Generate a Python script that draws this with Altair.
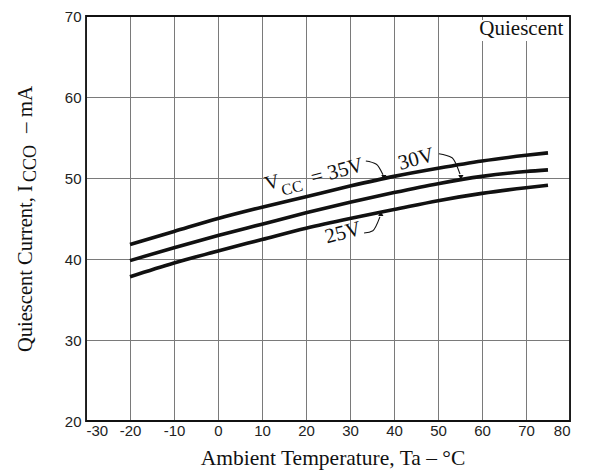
import altair as alt
import pandas as pd

# ---- data ----
temps = [-20, -10, 0, 10, 20, 30, 40, 50, 60, 70, 75]
icco_35v = [41.8, 43.4, 45.0, 46.4, 47.7, 49.0, 50.2, 51.2, 52.1, 52.8, 53.1]
icco_30v = [39.8, 41.4, 42.9, 44.3, 45.7, 47.0, 48.2, 49.3, 50.2, 50.8, 51.0]
icco_25v = [37.8, 39.5, 41.0, 42.4, 43.8, 45.0, 46.1, 47.2, 48.1, 48.8, 49.1]

x_ticks = [-30, -20, -10, 0, 10, 20, 30, 40, 50, 60, 70, 80]
y_ticks = [20, 30, 40, 50, 60, 70]

# annotation labels (data coordinates)
label_text = ["V", "CC", "= 35V", "30V", "25V"]
label_x = [11.1, 14.8, 21.6, 41.4, 24.8]
label_y = [48.5, 47.8, 49.2, 51.0, 41.9]
label_size = [20, 16, 21, 21, 21]

# arrows (curved leaders) in data coordinates
arrow_id = ["a35"] * 3 + ["a30"] * 3 + ["a25"] * 3
arrow_x = [33.6, 36.0, 37.5, 50.2, 53.2, 55.0, 33.2, 35.2, 36.8]
arrow_y = [52.1, 51.7, 50.4, 53.0, 52.5, 50.5, 43.2, 43.5, 45.2]
head_x = [37.7, 55.2]
head_y = [50.1, 50.1]
head_up_x = [37.0]
head_up_y = [45.6]

rows = []
for name, vals in [("35V", icco_35v), ("30V", icco_30v), ("25V", icco_25v)]:
    for t, v in zip(temps, vals):
        rows.append({"Ta": t, "I": v, "Vcc": name})
df = pd.DataFrame(rows)

W, H = 484, 405

xs = alt.Scale(domain=[-30, 80], nice=False, zero=False)
ys = alt.Scale(domain=[20, 70], nice=False, zero=False)

base_axis_x = alt.Axis(values=x_ticks, grid=True, gridColor="#7a7a7a", gridWidth=1,
                       ticks=False, domain=False, labelFont="Liberation Sans",
                       labelFontSize=15, labelColor="#222", labelPadding=2, title=None,
                       labelExpr="replace(datum.label, '\u2212', '-')")
base_axis_y = alt.Axis(values=y_ticks, grid=True, gridColor="#7a7a7a", gridWidth=1,
                       ticks=False, domain=False, labelFont="Liberation Sans",
                       labelFontSize=15, labelColor="#222", labelPadding=5, title=None)

curves = alt.Chart(df).mark_line(color="#111", strokeWidth=3.6, interpolate="monotone").encode(
    x=alt.X("Ta:Q", scale=xs, axis=base_axis_x),
    y=alt.Y("I:Q", scale=ys, axis=base_axis_y),
    detail="Vcc:N",
)

lab_df = pd.DataFrame({"t": label_text, "x": label_x, "y": label_y, "s": label_size})
labels = alt.Chart(lab_df).mark_text(font="Liberation Serif", angle=345, align="left",
                                     baseline="alphabetic", color="#111").encode(
    x=alt.X("x:Q", scale=xs), y=alt.Y("y:Q", scale=ys), text="t:N",
    size=alt.Size("s:Q", scale=None, legend=None),
)

arr_df = pd.DataFrame({"id": arrow_id, "x": arrow_x, "y": arrow_y, "o": list(range(len(arrow_x)))})
arrows = alt.Chart(arr_df).mark_line(color="#111", strokeWidth=1.1, interpolate="monotone").encode(
    x=alt.X("x:Q", scale=xs), y=alt.Y("y:Q", scale=ys), detail="id:N", order="o:Q",
)
heads_down = alt.Chart(pd.DataFrame({"x": head_x, "y": head_y})).mark_point(
    shape="triangle-down", filled=True, color="#111", size=28, opacity=1).encode(
    x=alt.X("x:Q", scale=xs), y=alt.Y("y:Q", scale=ys))
heads_up = alt.Chart(pd.DataFrame({"x": head_up_x, "y": head_up_y})).mark_point(
    shape="triangle-up", filled=True, color="#111", size=28, opacity=1).encode(
    x=alt.X("x:Q", scale=xs), y=alt.Y("y:Q", scale=ys))

# "Quiescent" label box
qbox = alt.Chart(pd.DataFrame({"x": [58.6], "x2": [79.8], "y": [69.5], "y2": [66.9]})).mark_rect(
    color="white").encode(x=alt.X("x:Q", scale=xs), x2="x2:Q", y=alt.Y("y:Q", scale=ys), y2="y2:Q")
qtext = alt.Chart(pd.DataFrame({"x": [59.4], "y": [67.6], "t": ["Quiescent"]})).mark_text(
    font="Liberation Serif", fontSize=21, align="left", baseline="alphabetic", color="#111").encode(
    x=alt.X("x:Q", scale=xs), y=alt.Y("y:Q", scale=ys), text="t:N")

# frame
frame = alt.Chart(pd.DataFrame({"x": [-30], "x2": [80], "y": [20], "y2": [70]})).mark_rect(
    fill=None, stroke="#111", strokeWidth=1.8).encode(
    x=alt.X("x:Q", scale=xs), x2="x2:Q", y=alt.Y("y:Q", scale=ys), y2="y2:Q")

# axis titles (serif, with subscripts)
xtitle = alt.Chart(pd.DataFrame({"t": ["Ambient Temperature, Ta \u2013 \u00b0C"]})).mark_text(
    font="Liberation Serif", fontSize=21.5, align="center", baseline="alphabetic", color="#111").encode(
    x=alt.value(W / 2 + 5), y=alt.value(H + 44), text="t:N")

ytitle_parts = pd.DataFrame({
    "t": ["Quiescent Current, I", "CCO", "\u2013 mA"],
    "px": [-54, -50, -54],
    "py": [336, 166, 117],
    "s": [20.5, 18, 21],
})
ytitle = alt.Chart(ytitle_parts).mark_text(font="Liberation Serif", angle=270, align="left",
                                           baseline="alphabetic", color="#111").encode(
    x=alt.X("px:Q", scale=None), y=alt.Y("py:Q", scale=None), text="t:N",
    size=alt.Size("s:Q", scale=None, legend=None))

chart = alt.layer(curves, arrows, heads_down, heads_up, labels, qbox, qtext, frame, xtitle, ytitle).properties(
    width=W, height=H,
    autosize="none",
    padding={"left": 78, "top": 8, "right": 12, "bottom": 50},
).configure_view(stroke=None).configure(background="white")

chart.save("out.html", embed_options={"renderer": "svg", "actions": False})
